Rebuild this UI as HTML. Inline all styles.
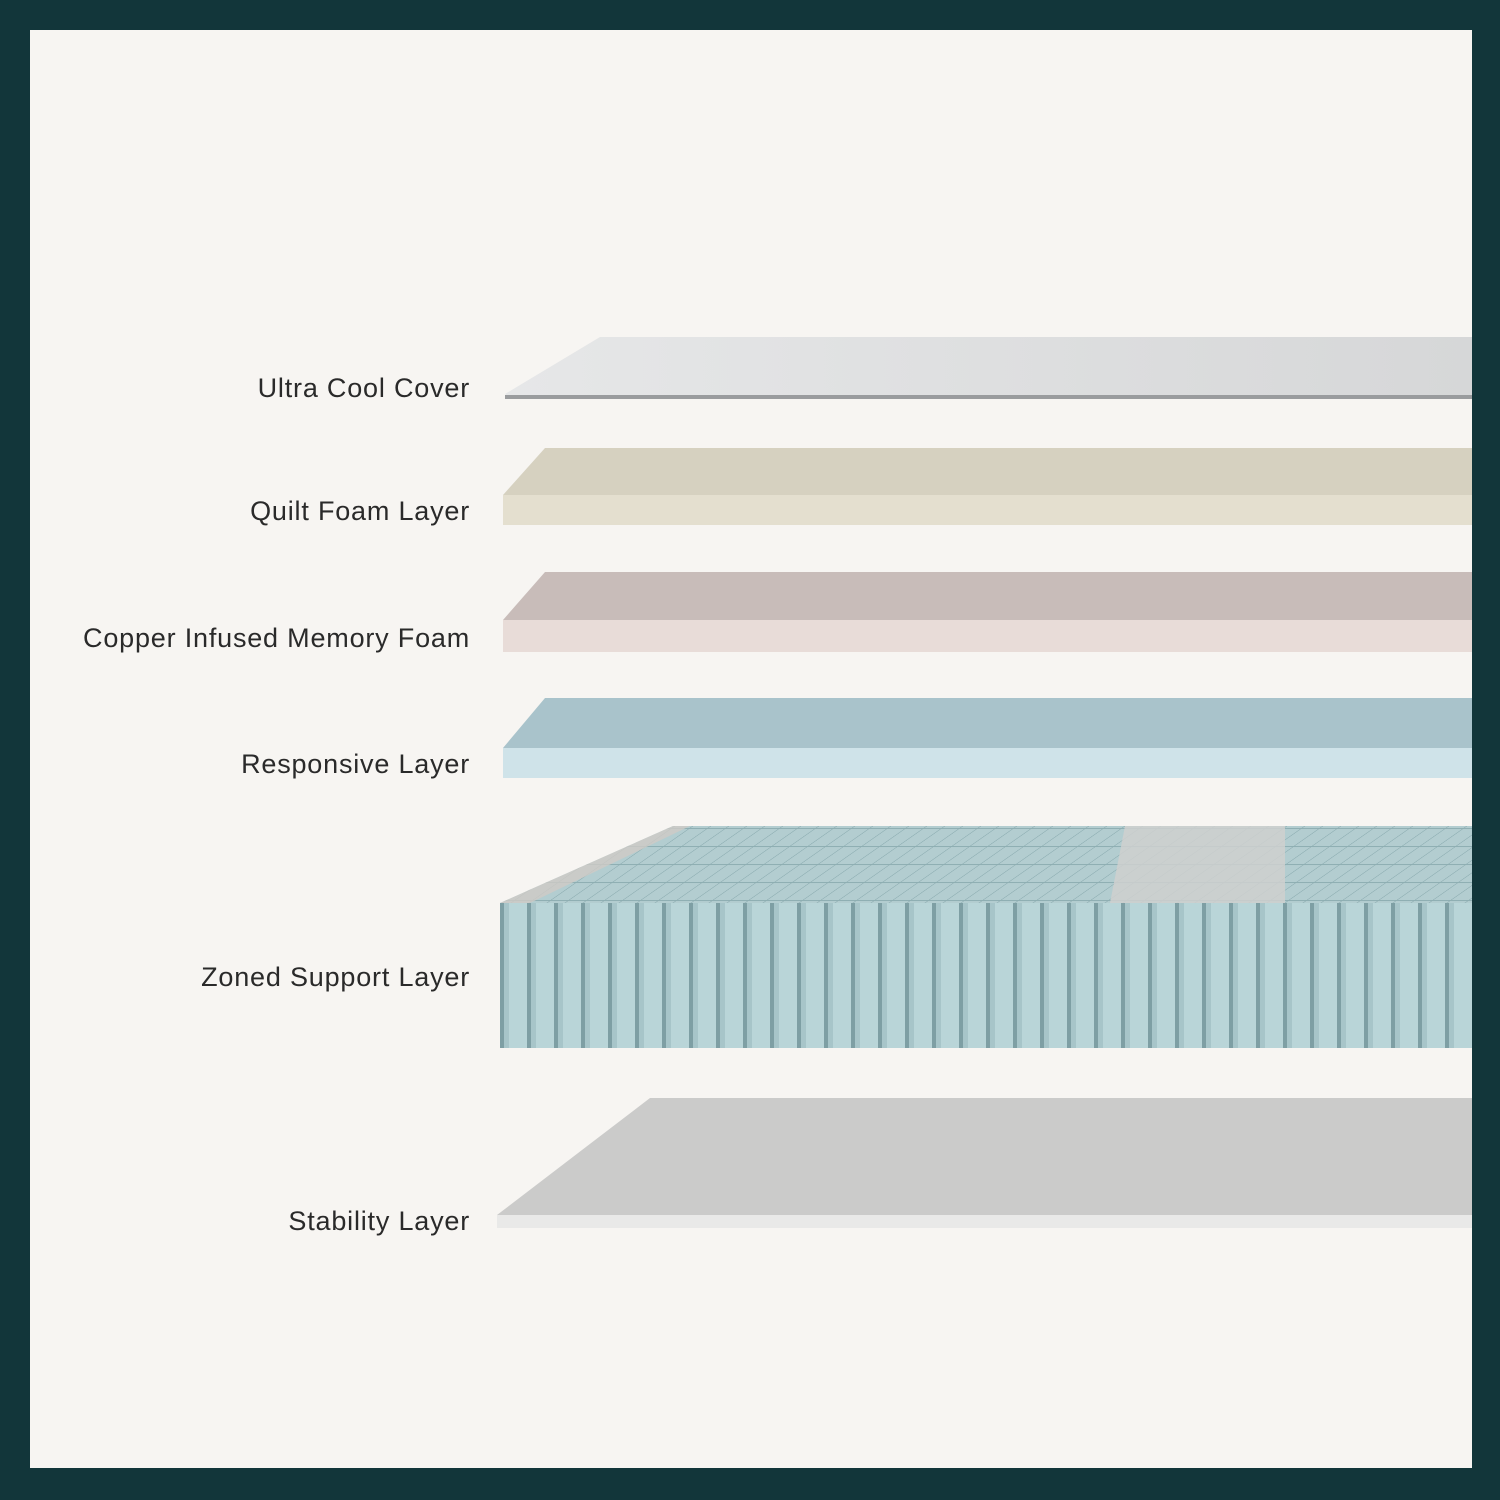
<!DOCTYPE html>
<html><head><meta charset="utf-8"><style>
html,body{margin:0;padding:0;background:#12363a}
svg{display:block}
text{font-family:"Liberation Sans",sans-serif;font-size:27px;letter-spacing:0.8px;fill:#2a2a2a}
</style></head><body>
<svg width="1500" height="1500" viewBox="0 0 1500 1500" xmlns="http://www.w3.org/2000/svg">
<defs>
<pattern id="st" x="500" y="0" width="27" height="10" patternUnits="userSpaceOnUse">
<rect width="27" height="10" fill="#b9d5d8"/>
<rect x="0" width="4" height="10" fill="#7e9fa4"/>
<rect x="4" width="5" height="10" fill="#a7c5c9"/>
</pattern>
<pattern id="gr" width="18" height="18" patternUnits="userSpaceOnUse" patternTransform="skewX(-55)">
<rect width="18" height="18" fill="#b3cdd0"/>
<path d="M0 0H18M0 0V18" stroke="#8eaeb2" stroke-width="2"/>
</pattern>
<linearGradient id="cv" x1="0" x2="1" y1="0" y2="0">
<stop offset="0" stop-color="#e6e7e8"/><stop offset="1" stop-color="#d6d7d8"/>
</linearGradient>
</defs>
<rect x="0" y="0" width="1500" height="1500" fill="#12363a"/>
<rect x="30" y="30" width="1442" height="1438" fill="#f7f5f2"/>
<polygon points="505,394 600,337 1472,337 1472,399 510,399" fill="url(#cv)"/>
<rect x="505" y="395" width="967" height="4" fill="#9a9c9e"/>
<polygon points="503,495 545,448 1472,448 1472,495" fill="#d6d1c0"/>
<rect x="503" y="495" width="969" height="30" fill="#e4dfcf"/>
<polygon points="503,620 545,572 1472,572 1472,620" fill="#c8bcb9"/>
<rect x="503" y="620" width="969" height="32" fill="#e8dcd8"/>
<polygon points="503,748 545,698 1472,698 1472,748" fill="#a9c3cb"/>
<rect x="503" y="748" width="969" height="30" fill="#cfe3e9"/>
<polygon points="500,903 673,826 1472,826 1472,903" fill="url(#gr)"/>
<polygon points="1125,826 1285,826 1285,903 1110,903" fill="#cfd0cf" opacity="0.85"/>
<polygon points="500,903 673,826 690,826 530,903" fill="#d0cbc6" opacity="0.8"/>
<rect x="500" y="903" width="972" height="145" fill="url(#st)"/>
<polygon points="497,1215 650,1098 1472,1098 1472,1215" fill="#cbcbca"/>
<rect x="497" y="1215" width="975" height="13" fill="#e9e9e8"/>
<g text-anchor="end">
<text x="470" y="397">Ultra Cool Cover</text>
<text x="470" y="520">Quilt Foam Layer</text>
<text x="470" y="647">Copper Infused Memory Foam</text>
<text x="470" y="773">Responsive Layer</text>
<text x="470" y="986">Zoned Support Layer</text>
<text x="470" y="1230">Stability Layer</text>
</g>
</svg>
</body></html>
